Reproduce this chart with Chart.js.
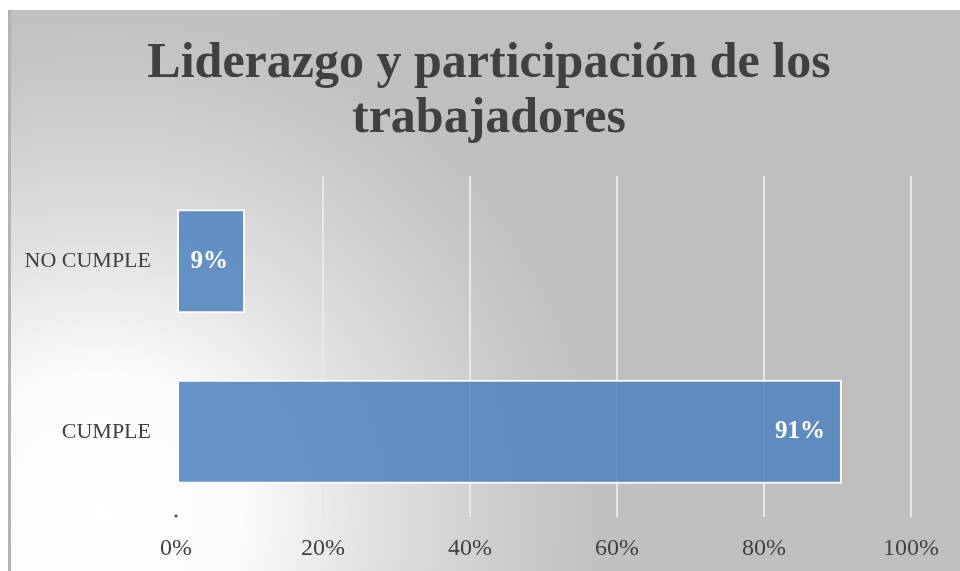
<!DOCTYPE html>
<html>
<head>
<meta charset="utf-8">
<script src="https://cdn.jsdelivr.net/npm/chart.js@4/dist/chart.umd.min.js"></script>
<style>
  html, body { margin: 0; padding: 0; background: #ffffff; }
  #wrap { position: absolute; left: 8px; top: 10px; width: 952px; height: 561px; }
</style>
</head>
<body>
<div id="wrap"><canvas id="chart"></canvas></div>
<script>
const categories = ['NO CUMPLE', 'CUMPLE'];
const values = [9.4, 90.6];
const tickStep = 20;
const titleLines = ['Liderazgo y participación de los', 'trabajadores'];

const serif = '"Liberation Serif", "Times New Roman", serif';

// gray panel with the soft white glow in the lower left
const panelBackground = {
  id: 'panelBackground',
  beforeDraw(chart) {
    const { ctx, width, height } = chart;
    ctx.save();
    ctx.fillStyle = '#bfbfbf';
    ctx.fillRect(0, 0, width, height);
    const g = ctx.createRadialGradient(92, 505, 0, 92, 505, 560);
    g.addColorStop(0, '#ffffff');
    g.addColorStop(0.25, '#fbfbfb');
    g.addColorStop(0.5, '#e0e0e0');
    g.addColorStop(0.78, '#c8c8c8');
    g.addColorStop(1, 'rgba(191,191,191,0)');
    ctx.fillStyle = g;
    ctx.fillRect(0, 0, width, height);
    ctx.fillStyle = '#b4b4b4';
    ctx.fillRect(0, 0, 3, height);
    ctx.restore();
  }
};

// two-line title, centred on the whole panel
const panelTitle = {
  id: 'panelTitle',
  afterDraw(chart) {
    const { ctx } = chart;
    ctx.save();
    ctx.font = 'bold 50px ' + serif;
    ctx.fillStyle = '#404040';
    ctx.textAlign = 'center';
    ctx.textBaseline = 'alphabetic';
    titleLines.forEach((line, i) => {
      ctx.fillText(line, 481, 67 + i * 55);
    });
    ctx.restore();
  }
};

// white value labels just inside the end of each bar, plus the small dot at 0
const barLabels = {
  id: 'barLabels',
  afterDatasetsDraw(chart) {
    const { ctx, chartArea } = chart;
    const meta = chart.getDatasetMeta(0);
    ctx.save();
    ctx.font = 'bold 25px ' + serif;
    ctx.fillStyle = '#ffffff';
    ctx.textAlign = 'right';
    ctx.textBaseline = 'middle';
    meta.data.forEach((bar, i) => {
      ctx.fillText(Math.round(values[i]) + '%', bar.x - 17, bar.y);
    });
    ctx.fillStyle = '#404040';
    ctx.beginPath();
    ctx.arc(chart.scales.x.getPixelForValue(0), chartArea.bottom - 1, 1.5, 0, Math.PI * 2);
    ctx.fill();
    ctx.restore();
  }
};

new Chart(document.getElementById('chart'), {
  type: 'bar',
  data: {
    labels: categories,
    datasets: [{
      data: values,
      backgroundColor: 'rgba(79,129,189,0.85)',
      borderColor: '#ffffff',
      borderWidth: 2,
      borderSkipped: false,
      categoryPercentage: 1,
      barPercentage: 0.61
    }]
  },
  options: {
    indexAxis: 'y',
    responsive: true,
    maintainAspectRatio: false,
    animation: false,
    layout: { padding: { left: 0, right: 49, top: 166, bottom: 0 } },
    plugins: {
      legend: { display: false },
      tooltip: { enabled: false },
      title: { display: false }
    },
    scales: {
      x: {
        min: 0,
        max: 100,
        ticks: {
          stepSize: tickStep,
          color: '#404040',
          padding: 17,
          font: { family: serif, size: 24 },
          callback: v => v + '%'
        },
        grid: {
          drawTicks: false,
          lineWidth: 2,
          color: c => (c.index === 0 ? 'rgba(0,0,0,0)' : '#e8e8e8')
        },
        border: { display: false },
        afterFit(scale) { scale.height = 54; }
      },
      y: {
        ticks: {
          color: '#404040',
          padding: 25,
          font: { family: serif, size: 22 }
        },
        grid: { display: false, drawTicks: false },
        border: { display: false },
        afterFit(scale) { scale.width = 168; }
      }
    }
  },
  plugins: [panelBackground, panelTitle, barLabels]
});
</script>
</body>
</html>
